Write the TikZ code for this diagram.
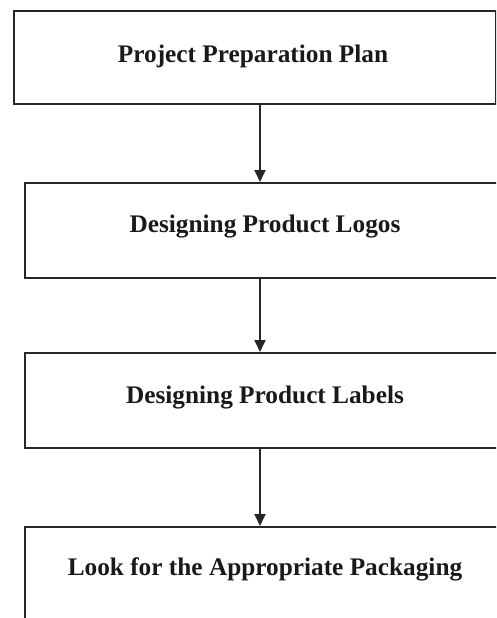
\documentclass[tikz,border=0pt]{standalone}
\usepackage{fontspec}
\setmainfont{Liberation Serif}
\usetikzlibrary{arrows.meta}
\begin{document}
\begin{tikzpicture}[x=1pt,y=-1pt,
  stepbox/.style={draw=black!85, line width=2.2pt, rectangle, inner sep=0pt, anchor=north west},
  steptext/.style={font=\fontsize{25.3}{29}\selectfont\bfseries, text=black!90},
  flow/.style={draw=black!85, line width=1.8pt, -{Triangle[length=12pt,width=11pt]}}]
\useasboundingbox (0,0) rectangle (496,618);
\clip (0,0) rectangle (496,618);
\fill[white] (0,0) rectangle (496,618);
\node[stepbox, minimum width=482pt, minimum height=93pt] (b1) at (13,10) {};
\node[steptext] at (253,56) (t1) {Project Preparation Plan};
\node[stepbox, minimum width=482pt, minimum height=95pt] (b2) at (24,182) {};
\node[steptext] at (265,227) (t2) {Designing Product Logos};
\node[stepbox, minimum width=482pt, minimum height=95pt] (b3) at (24,352) {};
\node[steptext] at (265,398) (t3) {Designing Product Labels};
\node[stepbox, minimum width=482pt, minimum height=120pt] (b4) at (24,526) {};
\node[steptext] at (265,569) (t4) {Look for the Appropriate Packaging};
\coordinate (a1) at (260,103);
\coordinate (a2) at (260,182);
\coordinate (a3) at (260,277);
\coordinate (a4) at (260,352);
\coordinate (a5) at (260,447);
\coordinate (a6) at (260,526);
\draw[flow] (a1) -- (a2);
\draw[flow] (a3) -- (a4);
\draw[flow] (a5) -- (a6);
\end{tikzpicture}
\end{document}
